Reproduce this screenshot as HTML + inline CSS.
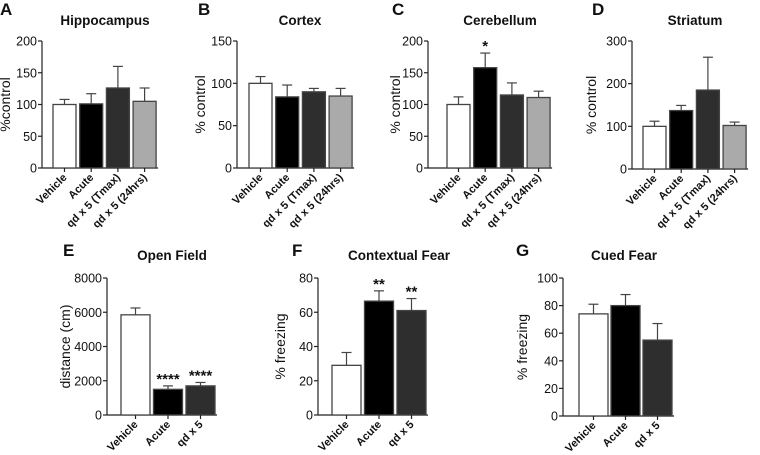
<!DOCTYPE html>
<html><head><meta charset="utf-8"><style>
html,body{margin:0;padding:0;background:#fff;}
svg{display:block;font-family:"Liberation Sans",Arial,sans-serif;}
.tick{font-size:12.5px;fill:#111;}
.xl{font-size:11px;font-weight:bold;fill:#111;}
.tt{font-size:13.5px;font-weight:bold;fill:#111;}
.pl{font-size:17px;font-weight:bold;fill:#111;}
.yt{font-size:14px;fill:#111;}
</style></head><body>
<svg id="fig" width="760" height="455" viewBox="0 0 760 455"></svg>
<script>
// Data
const catsBrain = ["Vehicle","Acute","qd x 5 (Tmax)","qd x 5 (24hrs)"];
const catsBeh = ["Vehicle","Acute","qd x 5"];
const hippoVals = [100,101,126,105];
const hippoErr = [8,16,34,21];
const cortexVals = [100,84,90,85];
const cortexErr = [8,14,4,9];
const cerebVals = [100,158,115,111];
const cerebErr = [12,23,19,10];
const cerebSig = ["","*","",""];
const striVals = [100,137,185,102];
const striErr = [12,12,77,8];
const openVals = [5850,1500,1700];
const openErr = [400,200,200];
const openSig = ["","****","****"];
const ctxVals = [29,66.5,61];
const ctxErr = [7.5,6,7];
const ctxSig = ["","**","**"];
const cuedVals = [74,80,55];
const cuedErr = [7,8,12];
const ticksA = [0,50,100,150,200];
const ticksB = [0,50,100,150];
const ticksD = [0,100,200,300];
const ticksE = [0,2000,4000,6000,8000];
const ticksF = [0,20,40,60,80];
const ticksG = [0,20,40,60,80,100];

const fills4 = ["#fff","#000","#2e2e2e","#aaa"];
const svg = document.getElementById('fig');
const NS = "http://www.w3.org/2000/svg";
function mk(tag, at, parent){const e=document.createElementNS(NS,tag);for(const k in at)e.setAttribute(k,at[k]);(parent||svg).appendChild(e);return e;}

function panel(o){
  const g = mk('g',{});
  
  
  const max = o.ticks[o.ticks.length-1];
  const y = v => o.y0 - (v/max)*(o.y0-o.yTop);
  const n = o.vals.length;
  const x = i => o.bx + i*o.pitch;
  const axEnd = x(n-1)+o.bw+2;
  const L = mk('text',{x:o.lx,y:o.ly,class:'pl'},g); L.textContent=o.letter;
  
  
  const T = mk('text',{x:o.tx,y:o.ty,class:'tt','text-anchor':'middle'},g); T.textContent=o.title;
  
  
  const ya = mk('line',{x1:o.ax,y1:o.yTop,x2:o.ax,y2:o.y0,stroke:'#222','stroke-width':1.2},g);
  
  
  o.ticks.forEach(t=>{
    mk('line',{x1:o.ax-4,y1:y(t),x2:o.ax,y2:y(t),stroke:'#222','stroke-width':1.2},g);
    const tl = mk('text',{x:o.ax-5,y:y(t)+4.5,class:'tick','text-anchor':'end'},g); tl.textContent=t;
    
    
  });
  const yt = mk('text',{class:'yt','text-anchor':'middle',transform:`translate(${o.ytx},${(o.y0+o.yTop)/2}) rotate(-90)`},g);
  yt.textContent=o.ylabel;
  
  
  const xa = mk('line',{x1:o.ax,y1:o.y0,x2:axEnd,y2:o.y0,stroke:'#222','stroke-width':1.2},g);
  
  
  o.vals.forEach((v,i)=>{
    const cx = x(i)+o.bw/2;
    mk('line',{x1:cx,y1:y(v),x2:cx,y2:y(v+o.err[i]),stroke:'#444','stroke-width':1.2},g);
    mk('line',{x1:cx-5,y1:y(v+o.err[i]),x2:cx+5,y2:y(v+o.err[i]),stroke:'#444','stroke-width':1.2},g);
    const b = mk('rect',{x:x(i),y:y(v),width:o.bw,height:o.y0-y(v),fill:fills4[i],stroke:'#444','stroke-width':1.3},g);
    
    
    mk('line',{x1:cx,y1:o.y0,x2:cx,y2:o.y0+4,stroke:'#222','stroke-width':1.2},g);
    const xl = mk('text',{class:'xl','text-anchor':'end',transform:`translate(${cx+3},${o.y0+10}) rotate(-45)`},g);
    xl.textContent=o.cats[i];
    
    
    if(o.sig && o.sig[i]){
      const s = mk('text',{x:cx,y:y(v+o.err[i])+3,'text-anchor':'middle','font-size':'15px','font-weight':'bold',fill:'#111'},g);
      s.setAttribute('y', y(v+o.err[i])+6 - 8);
      s.textContent=o.sig[i];
      
      
    }
  });
}
const topCfg = {y0:168,yTop:41,bw:23,pitch:26.7,ly:15,ty:25};
panel(Object.assign({},topCfg,{id:'hippocampus',letter:'A',lx:0,tx:105,title:'Hippocampus',ax:42,bx:53,ytx:10,ticks:ticksA,vals:hippoVals,err:hippoErr,cats:catsBrain,ylabel:'%control'}));
panel(Object.assign({},topCfg,{id:'cortex',letter:'B',lx:198,tx:300,title:'Cortex',ax:237,bx:249,ytx:205,ticks:ticksB,vals:cortexVals,err:cortexErr,cats:catsBrain,ylabel:'% control'}));
panel(Object.assign({},topCfg,{id:'cerebellum',letter:'C',lx:392,tx:500,title:'Cerebellum',ax:428,bx:447,ytx:400,ticks:ticksA,vals:cerebVals,err:cerebErr,sig:cerebSig,cats:catsBrain,ylabel:'% control'}));
panel(Object.assign({},topCfg,{id:'striatum',letter:'D',lx:592,tx:695,title:'Striatum',ax:632,bx:643,ytx:596,y0:169,ticks:ticksD,vals:striVals,err:striErr,cats:catsBrain,ylabel:'% control'}));
const botCfg = {y0:415,yTop:278,bw:29,pitch:32.5,ly:256,ty:260};
panel(Object.assign({},botCfg,{id:'open-field',letter:'E',lx:63,tx:172,title:'Open Field',ax:107,bx:121,ytx:70,ticks:ticksE,vals:openVals,err:openErr,sig:openSig,cats:catsBeh,ylabel:'distance (cm)'}));
panel(Object.assign({},botCfg,{id:'contextual-fear',letter:'F',lx:292,tx:399,title:'Contextual Fear',ax:318,bx:332,ytx:285,ticks:ticksF,vals:ctxVals,err:ctxErr,sig:ctxSig,cats:catsBeh,ylabel:'% freezing'}));
panel(Object.assign({},botCfg,{id:'cued-fear',letter:'G',lx:516,tx:624,title:'Cued Fear',ax:563,bx:579,y0:416,ytx:527,pitch:32,ticks:ticksG,vals:cuedVals,err:cuedErr,cats:catsBeh,ylabel:'% freezing'}));
</script>
</body></html>
